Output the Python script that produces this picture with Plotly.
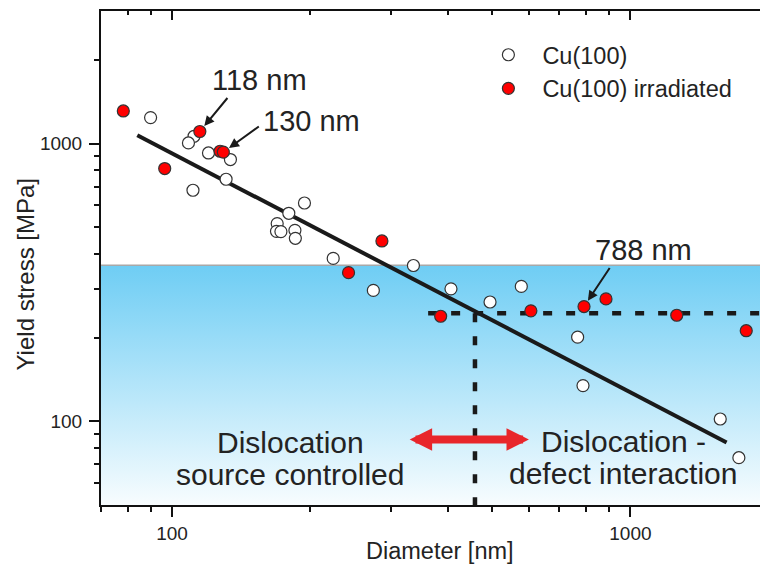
import math
import plotly.graph_objects as go

# ---- data ----
cu_x = [89.8, 111.7, 108.6, 120.1, 134.1, 131.2, 111.1, 194.5, 179.8, 169.6, 169.0, 172.8,
        185.4, 185.8, 224.7, 274.9, 336.2, 406, 494, 578, 767, 788, 1570, 1724]
cu_y = [1240, 1062, 1005, 925, 876, 744, 679, 611, 561, 515, 483, 482,
        487, 456, 386, 296, 364, 300, 269, 306, 201, 134.5, 102, 74]

irr_x = [78.3, 115, 127.3, 129.4, 96.4, 287, 242.7, 385.5, 606.5, 792, 884.5, 1262, 1789]
irr_y = [1310, 1105, 938, 931, 813, 446, 343, 239, 250, 259, 276, 241, 212]

fit_x = [84, 1621]
fit_y = [1071, 84]

crit_stress = 245     # horizontal dashed level [MPa]
crit_diam = 458       # vertical dashed diameter [nm]
band_top = 365        # top of blue band [MPa]

x_range = [70, 1917]
y_range = [50, 3000]
x_major = [100, 1000]
x_minor = [70, 80, 90, 200, 300, 400, 500, 600, 700, 800, 900]
y_major = [100, 1000]
y_minor = [60, 70, 80, 90, 200, 300, 400, 500, 600, 700, 800, 900, 2000]

labels = [("118 nm", 1), ("130 nm", 3), ("788 nm", 9)]  # (text, index in irradiated series)

FONT = "Liberation Sans, Arial, sans-serif"
TXT = "#232323"
L = math.log10

fig = go.Figure()

# blue gradient band
bx = [x_range[0] * 0.9, 2100, 2100, x_range[0] * 0.9, x_range[0] * 0.9]
by = [y_range[0] * 0.9, y_range[0] * 0.9, band_top, band_top, y_range[0] * 0.9]
fig.add_trace(go.Scatter(x=bx, y=by, mode="lines", fill="toself", line=dict(width=0),
                         fillgradient=dict(type="vertical",
                                           colorscale=[[0, "#FFFFFF"], [1, "#6ECDF4"]]),
                         hoverinfo="skip", showlegend=False))
fig.add_trace(go.Scatter(x=[x_range[0] * 0.9, 2100], y=[band_top, band_top], mode="lines",
                         line=dict(color="#A8A8A8", width=1.5), showlegend=False, hoverinfo="skip"))

# fit line
fig.add_trace(go.Scatter(x=fit_x, y=fit_y, mode="lines", line=dict(color="#1a1a1a", width=4),
                         showlegend=False))
# dashed guides
fig.add_trace(go.Scatter(x=[362, 2100], y=[crit_stress, crit_stress], mode="lines",
                         line=dict(color="#1a1a1a", width=4.5, dash="9px,14px"), showlegend=False))
fig.add_trace(go.Scatter(x=[crit_diam, crit_diam], y=[crit_stress, y_range[0] * 0.9], mode="lines",
                         line=dict(color="#1a1a1a", width=4.5, dash="9px,14px"), showlegend=False))

# data
fig.add_trace(go.Scatter(x=cu_x, y=cu_y, mode="markers", name="Cu(100)",
                         marker=dict(size=12, color="white", line=dict(color="#333", width=1.2))))
fig.add_trace(go.Scatter(x=irr_x, y=irr_y, mode="markers", name="Cu(100) irradiated",
                         marker=dict(size=12, color="#FF0000", line=dict(color="#333", width=1.2))))

anns = []
# arrows to labelled points
arrow_off = {"118 nm": (28, -34), "130 nm": (36, -26), "788 nm": (26, -39)}
for txt, i in labels:
    ax_, ay_ = arrow_off[txt]
    anns.append(dict(x=L(irr_x[i]), y=L(irr_y[i]), xref="x", yref="y", text="", showarrow=True,
                     ax=ax_, ay=ay_, arrowhead=2, arrowsize=1, arrowwidth=2, arrowcolor="#1a1a1a",
                     standoff=7, font=dict(size=1), borderpad=0))
# label texts (paper coords)
def P(px, py):
    return (px - 101) / 659, (505 - py) / 494

for txt, (px, py) in [("118 nm", (259.7, 80)), ("130 nm", (311.5, 121)), ("788 nm", (643, 250)),
                      ("Dislocation", (290.5, 442)), ("source controlled", (290.3, 474.5)),
                      ("Dislocation -", (623.3, 441)), ("defect interaction", (622.5, 473.5))]:
    xp, yp = P(px, py)
    size = 29 if "nm" in txt else 30
    anns.append(dict(x=xp, y=yp, xref="paper", yref="paper", text=txt, showarrow=False,
                     xanchor="center", yanchor="middle", font=dict(size=size, color=TXT, family=FONT)))

# red double arrow
arr_y = L(86)
anns.append(dict(x=L(330), y=arr_y, ax=L(602), ay=arr_y, xref="x", yref="y", axref="x", ayref="y",
                 text="", showarrow=True, arrowside="end+start", arrowhead=2, startarrowhead=2,
                 arrowsize=0.56, startarrowsize=0.56, arrowwidth=8,
                 arrowcolor="#E8262B", standoff=0, startstandoff=0, font=dict(size=1), borderpad=0))

# axis titles
xp, yp = P(440, 551)
anns.append(dict(x=xp, y=yp, xref="paper", yref="paper", text="Diameter [nm]", showarrow=False,
                 xanchor="center", yanchor="middle", font=dict(size=23.5, color=TXT, family=FONT)))
xp, yp = P(25, 274.5)
anns.append(dict(x=xp, y=yp, xref="paper", yref="paper", text="Yield stress [MPa]", showarrow=False,
                 xanchor="center", yanchor="middle",
                 textangle=-90, font=dict(size=24, color=TXT, family=FONT)))

axis_common = dict(type="log", showgrid=False, zeroline=False, showline=True, linecolor="#111",
                   linewidth=2, tickwidth=2, tickcolor="#111",
                   tickfont=dict(size=19, color=TXT, family=FONT))

fig.update_layout(
    width=760, height=568, margin=dict(l=101, r=0, t=11, b=63),
    plot_bgcolor="white", paper_bgcolor="white",
    font=dict(family=FONT, color=TXT),
    xaxis=dict(**axis_common, range=[L(x_range[0]), L(x_range[1])], tickmode="array",
               tickvals=x_major, ticktext=[str(v) for v in x_major], ticks="outside", ticklen=10,
               ticklabelstandoff=0,
               minor=dict(tickmode="array", tickvals=x_minor, ticks="outside", ticklen=5,
                          tickwidth=2, tickcolor="#111")),
    xaxis2=dict(**axis_common, range=[L(x_range[0]), L(x_range[1])], overlaying="x", side="top",
                anchor="y", tickmode="array", tickvals=x_major, ticks="inside", ticklen=9,
                showticklabels=False,
                minor=dict(tickmode="array", tickvals=x_minor, ticks="inside", ticklen=4,
                           tickwidth=2, tickcolor="#111")),
    yaxis=dict(**axis_common, range=[L(y_range[0]), L(y_range[1])], tickmode="array",
               tickvals=y_major, ticktext=[str(v) for v in y_major], ticks="outside", ticklen=10,
               ticklabelstandoff=3,
               minor=dict(tickmode="array", tickvals=y_minor, ticks="outside", ticklen=5,
                          tickwidth=2, tickcolor="#111")),
    legend=dict(x=0.5666, y=0.9555, xanchor="left", yanchor="top", bgcolor="rgba(0,0,0,0)",
                itemwidth=58,
                font=dict(size=23.5, color=TXT, family=FONT)),
    annotations=anns,
    showlegend=True,
)
# dummy trace to activate xaxis2
fig.add_trace(go.Scatter(x=[100], y=[100], xaxis="x2", yaxis="y", mode="markers",
                         marker=dict(opacity=0), showlegend=False, hoverinfo="skip"))

fig.write_html("out.html", config={"displayModeBar": False},
               post_script="document.body.style.margin='0px';document.body.style.overflow='hidden';")
